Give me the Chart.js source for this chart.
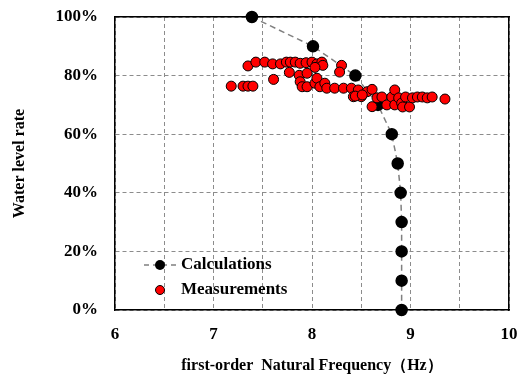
<!DOCTYPE html>
<html>
<head>
<meta charset="utf-8">
<script src="https://cdn.jsdelivr.net/npm/chart.js@4"></script>
<style>
  html, body { margin: 0; padding: 0; background: #fff; }
  #wrap { width: 518px; height: 378px; }
</style>
</head>
<body>
<div id="wrap"><canvas id="chart" width="518" height="378"></canvas></div>
<script>
// calculated curve
const calcFreq = [7.39, 8.01, 8.44, 8.67, 8.81, 8.87, 8.90, 8.91, 8.91, 8.91, 8.91];
const calcRate = [100, 90, 80, 70, 60, 50, 40, 30, 20, 10, 0];

// measured points
const measFreq = [
  7.18, 7.30, 7.35, 7.40,
  7.35, 7.43, 7.52, 7.60, 7.68, 7.74, 7.78, 7.83, 7.88, 7.94, 8.00, 8.05, 8.10, 8.11, 8.03,
  7.77, 7.61, 7.87, 7.95,
  7.88, 7.90, 7.95, 8.03, 8.05, 8.08, 8.13, 8.15, 8.23, 8.32, 8.40, 8.47, 8.56, 8.61,
  8.30, 8.28,
  8.42, 8.50, 8.61, 8.44, 8.51,
  8.66, 8.71, 8.76, 8.81, 8.84, 8.84, 8.88, 8.91, 8.92, 8.95, 8.99, 9.02, 9.07, 9.12, 9.17, 9.22, 9.35
];
const measRate = [
  76.4, 76.4, 76.4, 76.4,
  83.3, 84.6, 84.6, 84.0, 84.0, 84.6, 84.6, 84.6, 84.2, 84.4, 84.6, 84.0, 84.6, 83.5, 82.8,
  81.1, 78.7, 80.1, 80.8,
  77.9, 76.2, 76.2, 77.4, 79.1, 76.2, 77.4, 75.7, 75.7, 75.7, 75.7, 75.1, 74.5, 75.3,
  83.5, 81.2,
  72.8, 72.8, 69.4, 73.0, 73.4,
  72.4, 72.7, 70.0, 72.7, 75.1, 70.0, 72.4, 70.6, 69.3, 72.7, 69.3, 72.4, 72.7, 72.7, 72.4, 72.7, 72.0
];

// axis ticks
const xTicks = [6, 7, 8, 9, 10];
const yTicks = [0, 20, 40, 60, 80, 100];

const serif = "'Liberation Serif', 'Times New Roman', serif";

const toPoints = (xs, ys) => xs.map((x, i) => ({ x: x, y: ys[i] }));

// legend inside the plot, lower left
const legendPlugin = {
  id: 'innerLegend',
  afterDraw(chart) {
    const { ctx, chartArea: a } = chart;
    const x0 = a.left + 45;
    const y1 = a.bottom - 45;
    const y2 = a.bottom - 20;
    ctx.save();
    ctx.strokeStyle = '#808080';
    ctx.lineWidth = 1.5;
    ctx.setLineDash([5, 4]);
    ctx.beginPath();
    ctx.moveTo(x0 - 16, y1);
    ctx.lineTo(x0 + 17, y1);
    ctx.stroke();
    ctx.setLineDash([]);
    ctx.fillStyle = '#000';
    ctx.beginPath();
    ctx.arc(x0, y1, 5, 0, Math.PI * 2);
    ctx.fill();
    ctx.fillStyle = '#ff0000';
    ctx.strokeStyle = '#000';
    ctx.lineWidth = 1;
    ctx.beginPath();
    ctx.arc(x0, y2, 4.5, 0, Math.PI * 2);
    ctx.fill();
    ctx.stroke();
    ctx.fillStyle = '#000';
    ctx.font = 'bold 17px ' + serif;
    ctx.textBaseline = 'middle';
    ctx.fillText('Calculations', x0 + 21, y1);
    ctx.fillText('Measurements', x0 + 21, y2);
    ctx.restore();
  }
};

new Chart(document.getElementById('chart'), {
  type: 'scatter',
  data: {
    datasets: [
      {
        label: 'Measurements',
        data: toPoints(measFreq, measRate),
        backgroundColor: '#ff0000',
        borderColor: '#000',
        borderWidth: 1,
        pointRadius: 5,
        clip: false,
        order: 0
      },
      {
        label: 'Calculations',
        data: toPoints(calcFreq, calcRate),
        showLine: true,
        borderColor: '#808080',
        borderWidth: 1.5,
        borderDash: [6, 4],
        backgroundColor: '#000',
        pointBorderColor: '#000',
        pointRadius: 5.5,
        clip: false,
        order: 1
      }
    ]
  },
  options: {
    responsive: false,
    animation: false,
    layout: { padding: { top: 17, right: 0, left: 0, bottom: 0 } },
    plugins: {
      legend: { display: false },
      tooltip: { enabled: false }
    },
    scales: {
      x: {
        type: 'linear',
        min: 6,
        max: 10,
        afterFit: s => { s.height = 68; s.paddingLeft = 0; s.paddingRight = 9; },
        grid: { display: true, drawTicks: false, color: '#8c8c8c', lineWidth: 1 },
        border: { display: true, color: '#000', width: 1.5, dash: [4, 3] },
        ticks: {
          stepSize: 0.5,
          maxRotation: 0,
          padding: 14,
          color: '#000',
          font: { family: serif, size: 17, weight: 'bold' },
          callback: v => (xTicks.includes(v) ? String(v) : '')
        },
        title: {
          display: true,
          text: 'first-order  Natural Frequency（Hz）',
          color: '#000',
          font: { family: serif, size: 16, weight: 'bold' },
          padding: { top: 4, bottom: 3 }
        }
      },
      x2: {
        type: 'linear',
        position: 'top',
        min: 6,
        max: 10,
        afterFit: s => { s.height = 0; },
        grid: { display: false },
        border: { display: true, color: '#000', width: 1.5 },
        ticks: { display: false }
      },
      y: {
        min: 0,
        max: 100,
        afterFit: s => { s.width = 115; s.paddingTop = 0; s.paddingBottom = 0; },
        grid: { display: true, drawTicks: false, color: '#8c8c8c', lineWidth: 1 },
        border: { display: true, color: '#000', width: 1.5, dash: [4, 3] },
        ticks: {
          stepSize: 20,
          padding: 17,
          color: '#000',
          font: { family: serif, size: 17, weight: 'bold' },
          callback: v => v + '%'
        },
        title: {
          display: true,
          text: 'Water level rate',
          color: '#000',
          font: { family: serif, size: 16, weight: 'bold' },
          padding: { top: 10, bottom: 4 }
        }
      },
      y2: {
        position: 'right',
        min: 0,
        max: 100,
        afterFit: s => { s.width = 0; },
        grid: { display: false },
        border: { display: true, color: '#000', width: 1.5 },
        ticks: { display: false }
      }
    }
  },
  plugins: [legendPlugin]
});
</script>
</body>
</html>
